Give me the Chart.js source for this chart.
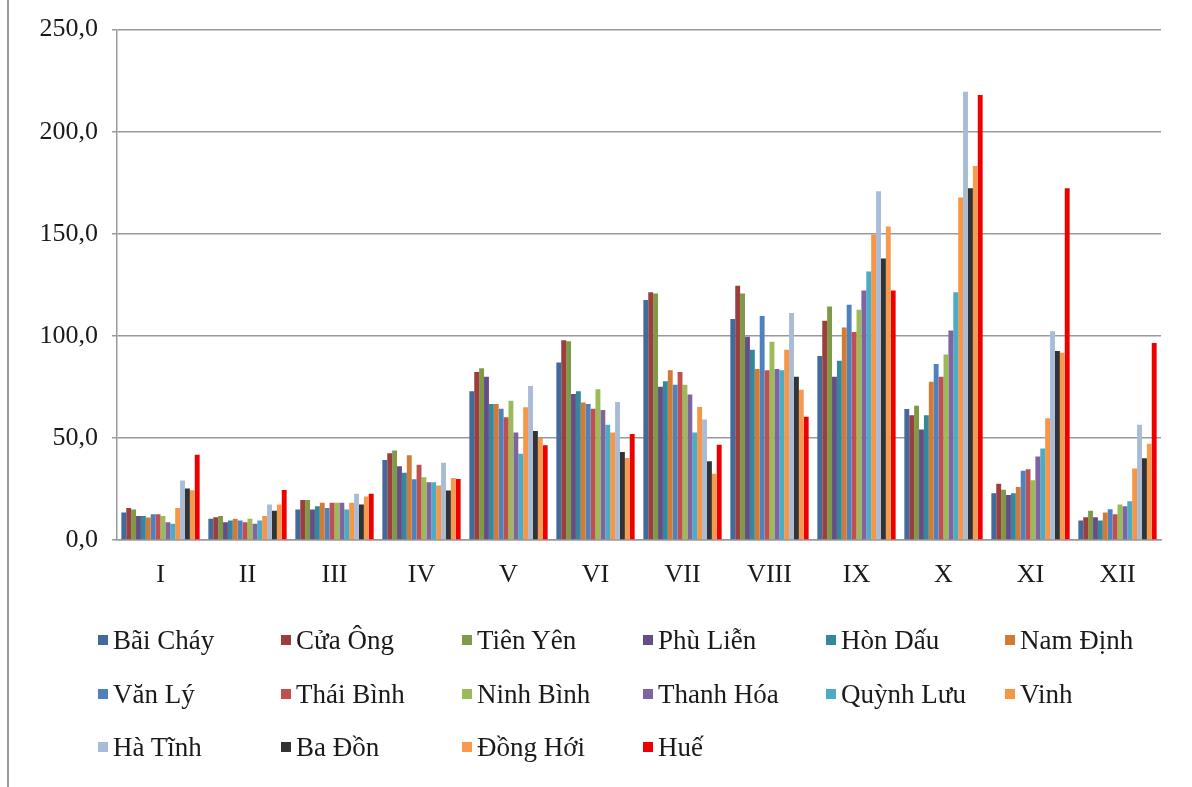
<!DOCTYPE html>
<html>
<head>
<meta charset="utf-8">
<script src="https://cdn.jsdelivr.net/npm/chart.js@4.4.1/dist/chart.umd.min.js"></script>
<style>
  html, body { margin: 0; padding: 0; background: #fff; }
  #wrap { position: relative; width: 1192px; height: 787px; overflow: hidden; }
  #edge { position: absolute; left: 7px; top: 0; width: 2px; height: 787px; background: #9a9a9a; }
  canvas { position: absolute; left: 0; top: 0; }
  #legend { position: absolute; left: 0; top: 0; width: 1192px; height: 787px; pointer-events: none;
            font-family: "Liberation Serif", "Times New Roman", serif; font-size: 27px; color: #1a1a1a; }
  .item { position: absolute; display: flex; align-items: center; white-space: nowrap; line-height: 30px; }
  .sw { width: 10px; height: 10px; margin-right: 5px; }
</style>
</head>
<body>
<div id="wrap">
  <div id="edge"></div>
  <canvas id="c" width="1192" height="787"></canvas>
  <div id="legend"></div>
</div>
<script>
// Monthly rainfall by station (months I–XII)
const months = ["I", "II", "III", "IV", "V", "VI", "VII", "VIII", "IX", "X", "XI", "XII"];

const baiChay  = [13.5, 10.4, 14.9, 39.2, 72.8, 87.0, 117.5, 108.2, 90.1, 64.2, 22.9, 9.5];
const cuaOng   = [15.7, 11.2, 19.6, 42.5, 82.3, 97.9, 121.4, 124.5, 107.4, 61.1, 27.5, 11.2];
const tienYen  = [14.9, 11.8, 19.6, 43.8, 84.1, 97.3, 120.7, 120.7, 114.4, 65.8, 24.6, 14.3];
const phuLien  = [11.8, 8.7, 14.9, 36.1, 80.0, 71.5, 75.1, 99.6, 80.0, 54.1, 22.1, 11.2];
const honDau   = [11.8, 9.5, 16.5, 33.0, 66.6, 72.8, 77.7, 93.2, 87.8, 61.1, 22.9, 9.5];
const namDinh  = [11.0, 10.4, 18.2, 41.5, 66.6, 67.4, 83.1, 83.8, 104.1, 77.5, 26.0, 13.5];
const vanLy    = [12.6, 9.5, 15.7, 29.7, 64.3, 66.6, 76.1, 109.7, 115.2, 86.2, 33.9, 15.1];
const thaiBinh = [12.6, 8.7, 18.2, 36.9, 60.1, 64.3, 82.3, 83.1, 101.9, 80.0, 34.6, 12.6];
const ninhBinh = [11.8, 10.4, 18.2, 30.7, 68.2, 73.8, 76.1, 97.1, 112.8, 90.9, 29.3, 17.4];
const thanhHoa = [8.7, 7.9, 18.2, 28.3, 52.6, 63.7, 71.3, 83.8, 122.2, 102.6, 40.9, 16.5];
const quynhLuu = [7.9, 9.5, 14.9, 28.3, 42.2, 56.5, 52.6, 83.1, 131.5, 121.4, 44.8, 19.0];
const vinh     = [15.7, 11.8, 18.2, 26.7, 65.0, 52.6, 65.2, 93.2, 149.6, 167.7, 59.6, 35.0];
const haTinh   = [29.1, 17.4, 22.7, 37.8, 75.4, 67.6, 59.0, 111.2, 170.8, 219.6, 102.2, 56.5];
const baDon    = [25.2, 14.3, 17.4, 24.2, 53.4, 43.1, 38.6, 80.0, 137.9, 172.3, 92.6, 40.0];
const dongHoi  = [24.4, 17.4, 21.3, 30.4, 50.0, 40.2, 32.4, 73.6, 153.5, 183.2, 91.7, 47.2];
const hue      = [41.7, 24.5, 22.7, 29.9, 46.4, 51.9, 46.7, 60.4, 122.2, 218.0, 172.3, 96.5];

const yTicks = [0, 50, 100, 150, 200, 250];

const series = [
  ["Bãi Cháy", baiChay, "#44699b"],
  ["Cửa Ông", cuaOng, "#9b3f3c"],
  ["Tiên Yên", tienYen, "#7e9a49"],
  ["Phù Liễn", phuLien, "#654e87"],
  ["Hòn Dấu", honDau, "#35879d"],
  ["Nam Định", namDinh, "#d17b36"],
  ["Văn Lý", vanLy, "#4f81bd"],
  ["Thái Bình", thaiBinh, "#c0504d"],
  ["Ninh Bình", ninhBinh, "#9bbb59"],
  ["Thanh Hóa", thanhHoa, "#8064a2"],
  ["Quỳnh Lưu", quynhLuu, "#4bacc6"],
  ["Vinh", vinh, "#f79646"],
  ["Hà Tĩnh", haTinh, "#a8bcd7"],
  ["Ba Đồn", baDon, "#333333"],
  ["Đồng Hới", dongHoi, "#f79a50"],
  ["Huế", hue, "#ee0000"]
];

const serif = "'Liberation Serif', 'Times New Roman', serif";
const gridColor = "#9a9a9a";

new Chart(document.getElementById("c"), {
  type: "bar",
  data: {
    labels: months,
    datasets: series.map(([name, values, color]) => ({
      label: name,
      data: values,
      backgroundColor: color,
      borderWidth: 0,
      categoryPercentage: 0.9,
      barPercentage: 1.0
    }))
  },
  options: {
    responsive: false,
    animation: false,
    devicePixelRatio: 1,
    layout: { padding: { top: 24, right: 31, left: 0, bottom: 0 } },
    plugins: { legend: { display: false }, tooltip: { enabled: false } },
    scales: {
      x: {
        grid: { display: false },
        border: { display: true, color: gridColor, width: 1.5 },
        ticks: { color: "#1a1a1a", font: { family: serif, size: 26 }, padding: 12 },
        afterFit: s => { s.height = 247; }
      },
      y: {
        min: 0, max: 250,
        afterBuildTicks: s => { s.ticks = yTicks.map(v => ({ value: v })); },
        grid: { color: gridColor, lineWidth: 1.5, tickLength: 5 },
        border: { display: true, color: gridColor, width: 1.5 },
        ticks: {
          color: "#1a1a1a",
          font: { family: serif, size: 26 },
          padding: 14,
          callback: v => v.toFixed(1).replace(".", ",")
        },
        afterFit: s => { s.width = 117; }
      }
    }
  }
});

// Legend laid out in three rows of six columns
const legend = document.getElementById("legend");
const colX = [98, 281, 462, 643, 826, 1005];
const rowY = [640, 694, 747];
series.forEach(([name, , color], i) => {
  const el = document.createElement("div");
  el.className = "item";
  el.style.left = colX[i % 6] + "px";
  el.style.top = (rowY[Math.floor(i / 6)] - 15) + "px";
  el.innerHTML = '<span class="sw" style="background:' + color + '"></span><span></span>';
  el.lastChild.textContent = name;
  legend.appendChild(el);
});
</script>
</body>
</html>
